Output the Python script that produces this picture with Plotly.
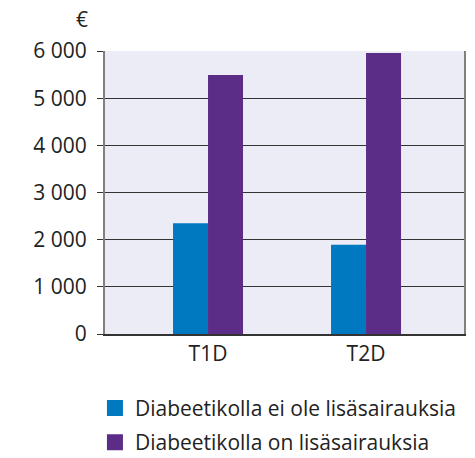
import plotly.graph_objects as go

categories = ["T1D", "T2D"]
no_comorb = [2350, 1890]
with_comorb = [5490, 5960]
series_names = ["Diabeetikolla ei ole lisäsairauksia", "Diabeetikolla on lisäsairauksia"]
tick_vals = [0, 1000, 2000, 3000, 4000, 5000, 6000]
tick_text = ["0", "1 000", "2 000", "3 000", "4 000", "5 000", "6 000"]
colors = ["#0079C1", "#5B2D86"]

FONT = "Open Sans"
FS = 21
fig = go.Figure()
for vals, name, c in zip([no_comorb, with_comorb], series_names, colors):
    fig.add_trace(go.Bar(x=categories, y=vals, name=name, marker=dict(color=c, line=dict(width=0)),
                         showlegend=False))
for name, c, g in zip(series_names, colors, ["a", "b"]):
    fig.add_trace(go.Scatter(x=[None], y=[None], mode="markers", name=name, legendgroup=g,
                             marker=dict(symbol="square", size=18, color=c)))

fig.update_layout(
    width=467, height=450,
    margin=dict(l=97, r=11, t=43, b=124, autoexpand=False),
    paper_bgcolor="white", plot_bgcolor="#ECECF6",
    barmode="group", bargap=0.557, bargroupgap=0,
    font=dict(family=FONT, size=FS, color="#222222"),
    showlegend=True,
    legend=dict(x=-0.028, y=0.156, xref="paper", yref="container", xanchor="left", yanchor="top",
                tracegroupgap=4, font=dict(size=FS, color="#222222"), bgcolor="rgba(0,0,0,0)"),
)
fig.update_xaxes(range=[-0.652, 1.62], showline=True, linecolor="#333333", linewidth=1.5,
                 showgrid=False, ticks="", tickfont=dict(size=FS))
fig.update_yaxes(range=[0, 6000], tickvals=tick_vals, ticktext=tick_text, showline=True,
                 linecolor="#808080", linewidth=2, mirror=True, showgrid=True,
                 gridcolor="#333333", gridwidth=1, ticks="outside", ticklen=6,
                 tickcolor="#333333", zeroline=False, tickfont=dict(size=FS),
                 ticklabelstandoff=6)
fig.add_annotation(text="€", xref="paper", yref="paper", x=(82 - 105) / 359, y=1 + (51 - 19) / 283,
                   xanchor="center", yanchor="middle",
                   showarrow=False, font=dict(size=FS, family=FONT, color="#222222"))
fig.write_html("out.html")
